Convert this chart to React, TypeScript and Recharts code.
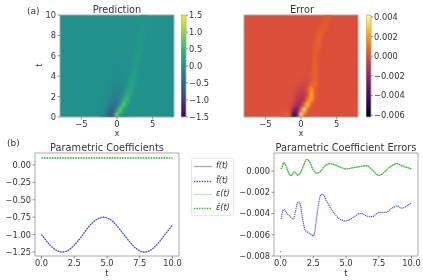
import { ComposedChart, Line, ReferenceArea, Scatter, XAxis, YAxis } from "recharts";

const FONT = "'DejaVu Sans', sans-serif";
const TEXT = "#333";
const SPINE = "#a8a8a8";

// heatmap grid: cell centres (background cells are 0)
const gridX = [-3, -2.5, -2, -1.5, -1, -0.5, 0, 0.5, 1, 1.5, 2, 2.5, 3, 3.5, 4, 4.5, 5];
const gridT = [0.25, 0.75, 1.25, 1.75, 2.25, 2.75, 3.25, 3.75, 4.25, 4.75, 5.25, 5.75, 6.25, 6.75, 7.25, 7.75, 8.25, 8.75, 9.25, 9.75];

const predictionRows = [
  [0, 0, -0.05, -0.3, -0.85, -0.55, 0.95, 0.25, 0.05, 0, 0, 0, 0, 0, 0, 0, 0],
  [0, 0, -0.03, -0.15, -0.45, -0.6, -0.05, 0.85, 0.15, 0, 0, 0, 0, 0, 0, 0, 0],
  [0, 0, 0, -0.08, -0.25, -0.4, -0.3, 0.15, 0.8, 0.1, 0, 0, 0, 0, 0, 0, 0],
  [0, 0, 0, -0.05, -0.12, -0.25, -0.25, -0.1, 0.35, 0.55, 0.05, 0, 0, 0, 0, 0, 0],
  [0, 0, 0, 0, -0.08, -0.15, -0.18, -0.15, 0, 0.45, 0.2, 0, 0, 0, 0, 0, 0],
  [0, 0, 0, 0, -0.05, -0.1, -0.12, -0.12, -0.05, 0.18, 0.35, 0.03, 0, 0, 0, 0, 0],
  [0, 0, 0, 0, -0.03, -0.07, -0.08, -0.08, -0.05, 0.04, 0.28, 0.12, 0, 0, 0, 0, 0],
  [0, 0, 0, 0, 0, -0.05, -0.05, -0.05, -0.03, 0, 0.2, 0.2, 0, 0, 0, 0, 0],
  [0, 0, 0, 0, 0, -0.03, -0.04, -0.04, -0.02, 0, 0.1, 0.24, 0.02, 0, 0, 0, 0],
  [0, 0, 0, 0, 0, -0.03, -0.03, -0.03, -0.02, 0, 0.04, 0.22, 0.04, 0, 0, 0, 0],
  [0, 0, 0, 0, 0, 0, -0.02, -0.02, -0.02, 0, 0.02, 0.16, 0.09, 0, 0, 0, 0],
  [0, 0, 0, 0, 0, 0, -0.02, -0.02, -0.02, 0, 0, 0.1, 0.17, 0, 0, 0, 0],
  [0, 0, 0, 0, 0, 0, 0, 0, -0.02, 0, 0, 0.05, 0.17, 0.04, 0, 0, 0],
  [0, 0, 0, 0, 0, 0, 0, 0, 0, 0, 0, 0.02, 0.13, 0.1, 0, 0, 0],
  [0, 0, 0, 0, 0, 0, 0, 0, 0, 0, 0, 0, 0.08, 0.14, 0, 0, 0],
  [0, 0, 0, 0, 0, 0, 0, 0, 0, 0, 0, 0, 0.05, 0.15, 0, 0, 0],
  [0, 0, 0, 0, 0, 0, 0, 0, 0, 0, 0, 0, 0.02, 0.14, 0.02, 0, 0],
  [0, 0, 0, 0, 0, 0, 0, 0, 0, 0, 0, 0, 0, 0.12, 0.04, 0, 0],
  [0, 0, 0, 0, 0, 0, 0, 0, 0, 0, 0, 0, 0, 0.1, 0.05, 0, 0],
  [0, 0, 0, 0, 0, 0, 0, 0, 0, 0, 0, 0, 0, 0.07, 0.07, 0, 0],
];

// in thousandths
const errorRows = [
  [0, 0.1, 0.5, 0.2, -4.8, -3, 3.8, 0.6, 0, 0, 0, 0, 0, 0, 0, 0, 0],
  [0, 0, 0.1, -0.2, -2.2, -3, 0.5, 3.6, 0.3, 0, 0, 0, 0, 0, 0, 0, 0],
  [0, 0, 0, -0.1, -0.7, -1.6, -1.6, 0.8, 3, 0.2, 0, 0, 0, 0, 0, 0, 0],
  [0, 0, 0, 0, -0.3, -0.9, -1.4, -1, 1.2, 2.2, 0.1, 0, 0, 0, 0, 0, 0],
  [0, 0, 0, 0, -0.2, -0.6, -1, -1, 0.1, 2.6, 0.3, 0, 0, 0, 0, 0, 0],
  [0, 0, 0, 0, -0.1, -0.4, -0.7, -0.7, 0.2, 1.8, 0.2, 0, 0, 0, 0, 0, 0],
  [0, 0, 0, 0, 0, -0.1, -0.3, -0.4, -0.3, 0.6, 0.8, 0, 0, 0, 0, 0, 0],
  [0, 0, 0, 0, 0, 0, -0.1, -0.2, -0.2, 0.15, 0.6, 0.05, 0, 0, 0, 0, 0],
  [0, 0, 0, 0, 0, 0, 0, -0.1, -0.1, 0.2, 0.55, 0, 0, 0, 0, 0, 0],
  [0, 0, 0, 0, 0, 0, 0, 0, 0, 0.1, 0.6, 0, 0, 0, 0, 0, 0],
  [0, 0, 0, 0, 0, 0, 0, 0, 0, 0, 0.6, 0.05, 0, 0, 0, 0, 0],
  [0, 0, 0, 0, 0, 0, 0, 0, 0, 0, 0.55, 0.05, 0, 0, 0, 0, 0],
  [0, 0, 0, 0, 0, 0, 0, 0, 0, 0, 0.45, 0.15, 0, 0, 0, 0, 0],
  [0, 0, 0, 0, 0, 0, 0, 0, 0, 0, 0.35, 0.35, 0, 0, 0, 0, 0],
  [0, 0, 0, 0, 0, 0, 0, 0, 0, 0, 0.2, 0.6, 0, 0, 0, 0, 0],
  [0, 0, 0, 0, 0, 0, 0, 0, 0, 0, 0, 0.7, 0.1, 0, 0, 0, 0],
  [0, 0, 0, 0, 0, 0, 0, 0, 0, 0, 0, 0.4, 0.4, 0, 0, 0, 0],
  [0, 0, 0, 0, 0, 0, 0, 0, 0, 0, 0, 0, 0.45, 0.25, 0, 0, 0],
  [0, 0, 0, 0, 0, 0, 0, 0, 0, 0, 0, 0, 0.1, 0.4, 0.1, 0, 0],
  [0, 0, 0, 0, 0, 0, 0, 0, 0, 0, 0, 0, 0, 0.25, 0.25, 0, 0],
];

const viridis = ["#440154", "#482475", "#414487", "#355f8d", "#2a788e", "#21918c", "#22a884", "#44bf70", "#7ad151", "#bddf26", "#fde725"];
const inferno = ["#000004", "#160b39", "#420a68", "#6a176e", "#932667", "#bc3754", "#dd513a", "#f37819", "#fca50a", "#f6d746", "#fcffa4"];

const predictionTicks = [-1.5, -1, -0.5, 0, 0.5, 1, 1.5];
const errorTicks = [-0.006, -0.004, -0.002, 0, 0.002, 0.004];

// parametric coefficients
const coefT = [0, 0.5, 1, 1.5, 2, 2.5, 3, 3.5, 4, 4.5, 5, 5.5, 6, 6.5, 7, 7.5, 8, 8.5, 9, 9.5, 10];
const fValues = [-1, -1.12, -1.21, -1.25, -1.23, -1.15, -1.04, -0.91, -0.81, -0.76, -0.76, -0.82, -0.93, -1.05, -1.16, -1.23, -1.25, -1.2, -1.1, -0.98, -0.86];
const fHatValues = [-1, -1.12, -1.21, -1.25, -1.23, -1.15, -1.04, -0.91, -0.81, -0.755, -0.76, -0.82, -0.93, -1.05, -1.16, -1.235, -1.25, -1.2, -1.105, -0.98, -0.865];
const epsValues = [0.1, 0.1, 0.1, 0.1, 0.1, 0.1, 0.1, 0.1, 0.1, 0.1, 0.1, 0.1, 0.1, 0.1, 0.1, 0.1, 0.1, 0.1, 0.1, 0.1, 0.1];

// coefficient errors
const greenT = [0, 0.1, 0.25, 0.4, 0.5, 0.75, 0.85, 1, 1.1, 1.3, 1.5, 1.75, 2, 2.2, 2.5, 2.75, 3, 3.25, 3.75, 4, 4.5, 5, 5.5, 6, 6.5, 6.75, 7, 7.5, 7.75, 8, 8.5, 8.9, 9.25, 9.5, 10];
const greenErr = [0.0002, 0.0003, 0.0008, 0.0005, 0.0002, -0.0004, -0.0004, -0.0001, -0.0001, -0.0004, -0.0002, 0.0005, 0.0011, 0.0009, 0.0001, -0.0002, -0.0001, 0.0003, 0.0007, 0.00065, 0.0004, 0.0002, 0.0003, 0.0004, 0.0005, 0.0004, 0.0001, -0.0004, -0.0003, 0, 0.0005, 0.0007, 0.0005, 0.0004, 0.0002];
const blueT = [0.05, 0.15, 0.25, 0.5, 0.75, 1, 1.1, 1.3, 1.4, 1.5, 1.65, 1.9, 2, 2.25, 2.5, 2.6, 2.75, 3, 3.1, 3.25, 3.5, 4, 4.5, 5, 5.25, 5.75, 6, 6.25, 6.5, 7, 7.25, 7.5, 8, 8.5, 8.9, 9.25, 9.75, 10];
const blueErr = [-0.0045, -0.0038, -0.0036, -0.004, -0.0043, -0.0045, -0.004, -0.003, -0.0029, -0.0031, -0.0043, -0.0056, -0.0057, -0.0059, -0.0061, -0.0058, -0.0044, -0.0025, -0.0022, -0.0022, -0.0028, -0.0038, -0.0045, -0.0047, -0.0046, -0.0042, -0.004, -0.004, -0.0042, -0.0043, -0.0041, -0.0039, -0.0039, -0.0035, -0.0033, -0.0035, -0.0032, -0.003];
const blueStart = [{ t: 0, v: -0.0076 }];

const mapColor = (stops: string[], f: number) => {
  const p = Math.max(0, Math.min(1, f)) * (stops.length - 1);
  const i = Math.min(Math.floor(p), stops.length - 2);
  const ch = (s: string, k: number) => parseInt(s.slice(1 + k * 2, 3 + k * 2), 16);
  const rgb = [0, 1, 2].map((k) => Math.round(ch(stops[i], k) + (ch(stops[i + 1], k) - ch(stops[i], k)) * (p - i)));
  return `rgb(${rgb.join(",")})`;
};

const minus = (s: string) => s.replace("-", "\u2212");
const tick = { fontSize: 8.3, fill: TEXT, fontFamily: FONT };
const tickLine = { stroke: "#666", strokeWidth: 0.7 };
const axisLabel = (value: string) => ({ value, position: "insideBottom" as const, offset: 4, fontSize: 8.3, fill: TEXT, fontFamily: FONT });

function Heatmap({ left, width, rows, domain, stops, yLabels, title }: { left: number; width: number; rows: number[][]; domain: number[]; stops: string[]; yLabels: number; title: string }) {
  const cells = rows.flatMap((row, r) => row.map((v, c) => ({ x: gridX[c], t: gridT[r], v }))).filter((d) => d.v !== 0);
  const plotW = 114;
  const cellW = (plotW / 16) * 0.5 + 0.6;
  const cellH = (102 / 10) * 0.5 + 0.6;
  const bg = mapColor(stops, (0 - domain[0]) / (domain[1] - domain[0]));
  return (
    <div className="heat" style={{ position: "absolute", left, top: 0 }}>
      <ComposedChart width={width} height={140} margin={{ top: 15, right: width - yLabels - plotW, left: 0, bottom: 0 }} data={cells}>
        <ReferenceArea x1={-8} x2={8} y1={0} y2={10} fill={bg} fillOpacity={1} stroke="none" />
        <XAxis dataKey="x" type="number" domain={[-8, 8]} ticks={[-5, 0, 5]} height={23} allowDataOverflow tick={tick} tickLine={tickLine} axisLine={false} tickSize={2.5} tickMargin={1.5} tickFormatter={(v) => minus(String(v))} label={axisLabel("x")} />
        <YAxis dataKey="t" type="number" domain={[0, 10]} ticks={[0, 2, 4, 6, 8, 10]} width={yLabels} allowDataOverflow tick={title === "Error" ? false : tick} tickLine={tickLine} axisLine={false} tickSize={2.5} tickMargin={1.5} />
        <Scatter dataKey="t" isAnimationActive={false} shape={(p: any) => (
          <rect x={p.cx - cellW / 2} y={p.cy - cellH / 2} width={cellW} height={cellH} fill={mapColor(stops, (p.payload.v - domain[0]) / (domain[1] - domain[0]))} />
        )} />
        <ReferenceArea x1={-8} x2={8} y1={0} y2={10} fill="none" stroke={SPINE} strokeWidth={1} />
      </ComposedChart>
    </div>
  );
}

function Colorbar({ left, id, stops, domain, ticks, digits }: { left: number; id: string; stops: string[]; domain: number[]; ticks: number[]; digits: number }) {
  return (
    <div style={{ position: "absolute", left, top: 0 }}>
      <ComposedChart width={48} height={140} margin={{ top: 15, right: 0, left: 0, bottom: 23 }} data={[{ x: 0, y: 0 }]}>
        <defs>
          <linearGradient id={id} x1="0" y1="1" x2="0" y2="0">
            {stops.map((c, i) => <stop key={c} offset={i / (stops.length - 1)} stopColor={c} />)}
          </linearGradient>
        </defs>
        <XAxis dataKey="x" type="number" domain={[0, 1]} hide />
        <YAxis orientation="right" dataKey="y" type="number" domain={domain} ticks={ticks} width={43} tick={{ ...tick, textAnchor: "start" }} tickLine={tickLine} axisLine={false} tickSize={2} tickMargin={1} tickFormatter={(v) => minus(Number(v).toFixed(digits))} />
        <ReferenceArea x1={0} x2={1} y1={domain[0]} y2={domain[1]} fill={`url(#${id})`} fillOpacity={1} stroke={SPINE} strokeWidth={0.8} />
      </ComposedChart>
    </div>
  );
}

const title = (text: string, cx: number, y: number) => (
  <div style={{ position: "absolute", left: cx - 80, top: y, width: 160, textAlign: "center", fontSize: 9.8, color: TEXT, lineHeight: "12px" }}>{text}</div>
);
const note = (text: string, x: number, y: number) => (
  <div style={{ position: "absolute", left: x, top: y, fontSize: 9, color: TEXT, lineHeight: "12px" }}>{text}</div>
);

const legendRows = [
  { label: "f(t)", stroke: "#aaa", dash: undefined },
  { label: "f\u0302(t)", stroke: "#3c3cff", dash: "1.3 1.3" },
  { label: "\u03b5(t)", stroke: "#bfe8bf", dash: undefined },
  { label: "\u03b5\u0302(t)", stroke: "#22b022", dash: "1.3 1.3" },
];
const legendY = [7, 22, 35, 49];

export default function App() {
  const coefTable = coefT.map((t, i) => ({ t, f: fValues[i], fHat: fHatValues[i], eps: epsValues[i] }));
  const greenTable = greenT.map((t, i) => ({ t, v: greenErr[i] }));
  const blueTable = blueT.map((t, i) => ({ t, v: blueErr[i] }));
  return (
    <div style={{ position: "absolute", left: 0, top: 0, width: 423, height: 280, background: "#fff", overflow: "hidden", fontFamily: FONT, filter: "blur(0.5px)" }}>
      <style>{`.heat .recharts-scatter { filter: blur(1.4px); }`}</style>

      <Heatmap left={0} width={178} rows={predictionRows} domain={[-1.5, 1.5]} stops={viridis} yLabels={60} title="Prediction" />
      <Colorbar left={181} id="cbarPrediction" stops={viridis} domain={[-1.5, 1.5]} ticks={predictionTicks} digits={1} />
      <Heatmap left={215} width={148} rows={errorRows} domain={[-6.2, 4.2]} stops={inferno} yLabels={29} title="Error" />
      <Colorbar left={366} id="cbarError" stops={inferno} domain={[-0.0062, 0.0042]} ticks={errorTicks} digits={3} />

      {title("Prediction", 117, 4)}
      {title("Error", 302, 4)}
      {note("(a)", 27, 5)}
      {note("(b)", 7, 137)}
      <div style={{ position: "absolute", left: 37, top: 60, fontSize: 8.3, color: TEXT, transform: "rotate(-90deg)", lineHeight: "10px" }}>t</div>

      <div style={{ position: "absolute", left: 0, top: 140 }}>
        <ComposedChart width={190} height={140} margin={{ top: 13, right: 11, left: 0, bottom: 0 }} data={coefTable}>
          <XAxis dataKey="t" type="number" domain={[-0.5, 10.5]} ticks={[0, 2.5, 5, 7.5, 10]} height={24} tick={tick} tickLine={tickLine} axisLine={false} tickSize={2.5} tickMargin={1.5} tickFormatter={(v) => Number(v).toFixed(1)} label={axisLabel("t")} />
          <YAxis type="number" domain={[-1.307, 0.172]} ticks={[-1.25, -1, -0.75, -0.5, -0.25, 0]} width={35} tick={tick} tickLine={tickLine} axisLine={false} tickSize={2.5} tickMargin={1.5} tickFormatter={(v) => minus(Number(v).toFixed(2))} />
          <Line dataKey="f" type="natural" stroke="#aaa" strokeWidth={1} dot={false} isAnimationActive={false} />
          <Line dataKey="fHat" type="natural" stroke="#3c3cff" strokeWidth={1.3} strokeDasharray="1.3 1.3" dot={false} isAnimationActive={false} />
          <Line dataKey="eps" stroke="#bfe8bf" strokeWidth={1} dot={false} isAnimationActive={false} />
          <Line dataKey="eps" stroke="#22b022" strokeWidth={1.3} strokeDasharray="1.3 1.3" dot={false} isAnimationActive={false} />
          <ReferenceArea x1={-0.5} x2={10.5} y1={-1.307} y2={0.172} fill="none" stroke={SPINE} strokeWidth={1} />
        </ComposedChart>
      </div>
      {title("Parametric Coefficients", 107, 142)}

      <div style={{ position: "absolute", left: 191, top: 158, width: 41, height: 56, border: "1px solid #e6e6e6", borderRadius: 2, background: "#fff" }}>
        {legendRows.map((r, i) => (
          <div key={r.label}>
            <svg width={18} height={3} style={{ position: "absolute", left: 2, top: legendY[i] - 1 }}>
              <line x1={0} y1={1.5} x2={18} y2={1.5} stroke={r.stroke} strokeWidth={1.3} strokeDasharray={r.dash} />
            </svg>
            <span style={{ position: "absolute", left: 24, top: legendY[i] - 6, fontSize: 8, lineHeight: "12px", fontStyle: "italic", color: TEXT, whiteSpace: "nowrap" }}>{r.label}</span>
          </div>
        ))}
      </div>

      <div style={{ position: "absolute", left: 215, top: 140 }}>
        <ComposedChart width={208} height={140} margin={{ top: 13, right: 5, left: 0, bottom: 0 }}>
          <XAxis dataKey="t" type="number" domain={[-0.5, 10.5]} ticks={[0, 2.5, 5, 7.5, 10]} height={24} tick={tick} tickLine={tickLine} axisLine={false} tickSize={2.5} tickMargin={1.5} tickFormatter={(v) => Number(v).toFixed(1)} label={axisLabel("t")} />
          <YAxis dataKey="v" type="number" domain={[-0.008, 0.0017]} ticks={[-0.008, -0.006, -0.004, -0.002, 0]} width={59} tick={tick} tickLine={tickLine} axisLine={false} tickSize={2.5} tickMargin={1.5} tickFormatter={(v) => minus(Number(v).toFixed(3))} />
          <Line data={greenTable} dataKey="v" type="monotone" stroke="#3cb83c" strokeWidth={1.3} strokeDasharray="2 0.4" dot={false} isAnimationActive={false} />
          <Line data={blueTable} dataKey="v" type="monotone" stroke="#4a4aff" strokeWidth={1.2} strokeDasharray="1.2 0.8" dot={false} isAnimationActive={false} />
          <Line data={blueStart} dataKey="v" stroke="none" dot={{ r: 0.6, fill: "#4a4aff", stroke: "none" }} isAnimationActive={false} />
          <ReferenceArea x1={-0.5} x2={10.5} y1={-0.008} y2={0.0017} fill="none" stroke={SPINE} strokeWidth={1} />
        </ComposedChart>
      </div>
      {title("Parametric Coefficient Errors", 346, 142)}
    </div>
  );
}
